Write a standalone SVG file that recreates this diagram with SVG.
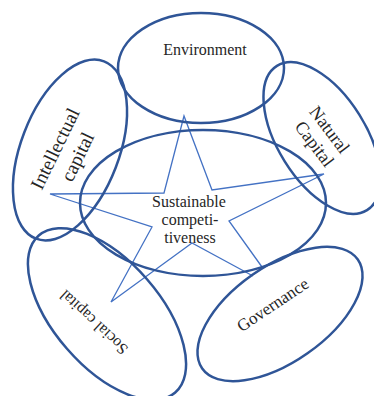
<svg xmlns="http://www.w3.org/2000/svg" width="374" height="396" viewBox="0 0 374 396">
  <style>
    .ring { fill: none; stroke: #2f5597; stroke-width: 2.5; }
    .star { fill: none; stroke: #4472c4; stroke-width: 1.3; stroke-linejoin: miter; }
    .lbl { font-family: "Liberation Serif", "Times New Roman", serif; fill: #262626; text-anchor: middle; }
  </style>
  <rect width="374" height="396" fill="#ffffff"/>

  <!-- star figure inside the central ellipse -->
  <g id="star">
    <path class="star" d="M262,267 L229,221 L324,174 L212,190 L184,116 L164,193 L50,194 L152,227 L111,302 L192,243 L253,276"/>
  </g>

  <g id="environment">
    <ellipse class="ring" cx="201" cy="68" rx="83" ry="55"/>
    <text class="lbl" x="205" y="55" font-size="16">Environment</text>
  </g>

  <g id="intellectual-capital">
    <ellipse class="ring" cx="70" cy="150" rx="49" ry="95" transform="rotate(21 70 150)"/>
    <text class="lbl" font-size="19.5" transform="translate(66.5 151.5) rotate(-64)">
      <tspan x="0" y="-5">Intellectual</tspan>
      <tspan x="0" y="18.7">capital</tspan>
    </text>
  </g>

  <g id="natural-capital">
    <ellipse class="ring" cx="322" cy="138" rx="44" ry="85" transform="rotate(-32 322 138)"/>
    <text class="lbl" font-size="18" transform="translate(323 137.5) rotate(53)">
      <tspan x="0" y="-4">Natural</tspan>
      <tspan x="0" y="16.6">Capital</tspan>
    </text>
  </g>

  <g id="sustainable-competitiveness">
    <ellipse class="ring" cx="203" cy="203" rx="123" ry="73"/>
    <text class="lbl" font-size="16">
      <tspan x="191" y="207">Sustainable</tspan>
      <tspan x="192" y="225">competi-</tspan>
      <tspan x="190" y="243">tiveness</tspan>
    </text>
  </g>

  <g id="social-capital">
    <ellipse class="ring" cx="107" cy="314" rx="53" ry="104" transform="rotate(-41 107 314)"/>
    <text class="lbl" font-size="16" transform="translate(93.5 322.5) rotate(-137)" x="0" y="5.6">Social capital</text>
  </g>

  <g id="governance">
    <ellipse class="ring" cx="280" cy="314" rx="95" ry="48" transform="rotate(-35 280 314)"/>
    <text class="lbl" font-size="17" transform="translate(272.5 304.5) rotate(-34)" x="0" y="6">Governance</text>
  </g>
</svg>
